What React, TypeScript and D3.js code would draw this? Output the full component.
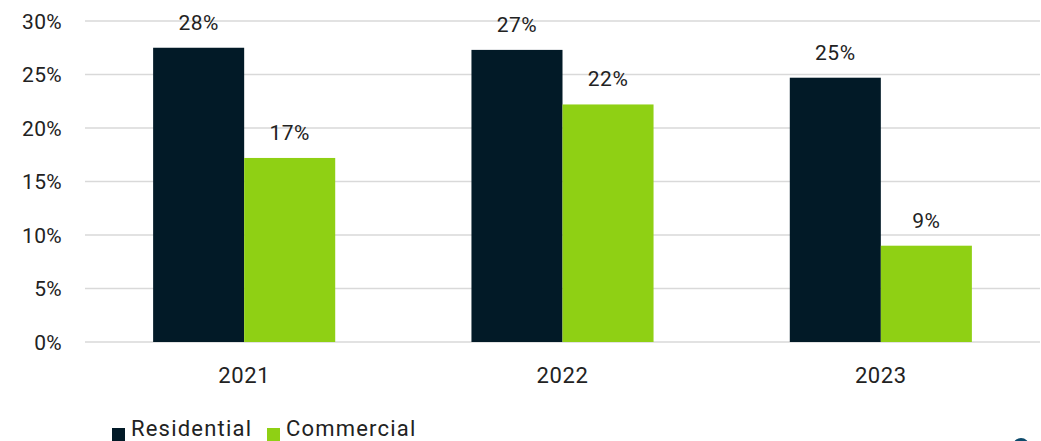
import React from "react";
import * as d3 from "d3";

const years = ["2021", "2022", "2023"];
const seriesNames = ["Residential", "Commercial"];
const residential = [27.5, 27.3, 24.7];
const commercial = [17.2, 22.2, 9.0];
const dataLabels = [["28%", "27%", "25%"], ["17%", "22%", "9%"]];
const yTicks = [0, 5, 10, 15, 20, 25, 30];

const colors = ["#021a27", "#8fd014"];

export default function App() {
  const W = 1041, H = 441;
  const x0 = d3.scaleBand().domain(years).range([85, 1040]).padding(0);
  const bw = x0.bandwidth();
  const x1 = d3.scaleBand().domain(seriesNames).range([bw * 0.214, bw * 0.786]).padding(0);
  const y = d3.scaleLinear().domain([0, 30]).range([342, 21]);
  const values = [residential, commercial];
  const font = "Roboto, 'DejaVu Sans', sans-serif";

  return (
    <svg width={W} height={H} style={{ position: "absolute", left: 0, top: 0, background: "#fff" }} fontFamily={font}>
      {yTicks.map((t) => (
        <g key={t}>
          <line x1={85} x2={1040} y1={y(t)} y2={y(t)} stroke="#d9d9d9" strokeWidth={1.5} />
          <text x={62} y={y(t)} dy="0.36em" textAnchor="end" fontSize={21} fill="#222" letterSpacing={0.3}>{`${t}%`}</text>
        </g>
      ))}
      {years.map((yr, i) => (
        <g key={yr} transform={`translate(${x0(yr)},0)`}>
          {seriesNames.map((s, j) => (
            <g key={s}>
              <rect x={x1(s)} y={y(values[j][i])} width={x1.bandwidth()} height={y(0) - y(values[j][i])} fill={colors[j]} />
              <text x={(x1(s) as number) + x1.bandwidth() / 2} y={y(values[j][i]) - 18} textAnchor="middle" fontSize={21} fill="#222" letterSpacing={0.5}>{dataLabels[j][i]}</text>
            </g>
          ))}
          <text x={bw / 2} y={383} textAnchor="middle" fontSize={22} fill="#222" letterSpacing={0.6}>{yr}</text>
        </g>
      ))}
      {seriesNames.map((s, j) => {
        const lx = [112, 267][j];
        return (
          <g key={s}>
            <rect x={lx} y={428} width={13} height={13} fill={colors[j]} />
            <text x={lx + 19} y={436} fontSize={22} fill="#222" letterSpacing={1.2}>{s}</text>
          </g>
        );
      })}
      <path d="M1013,446 A8,8 0 0 1 1029,446 Z" fill="#0d4a6b" />
    </svg>
  );
}
